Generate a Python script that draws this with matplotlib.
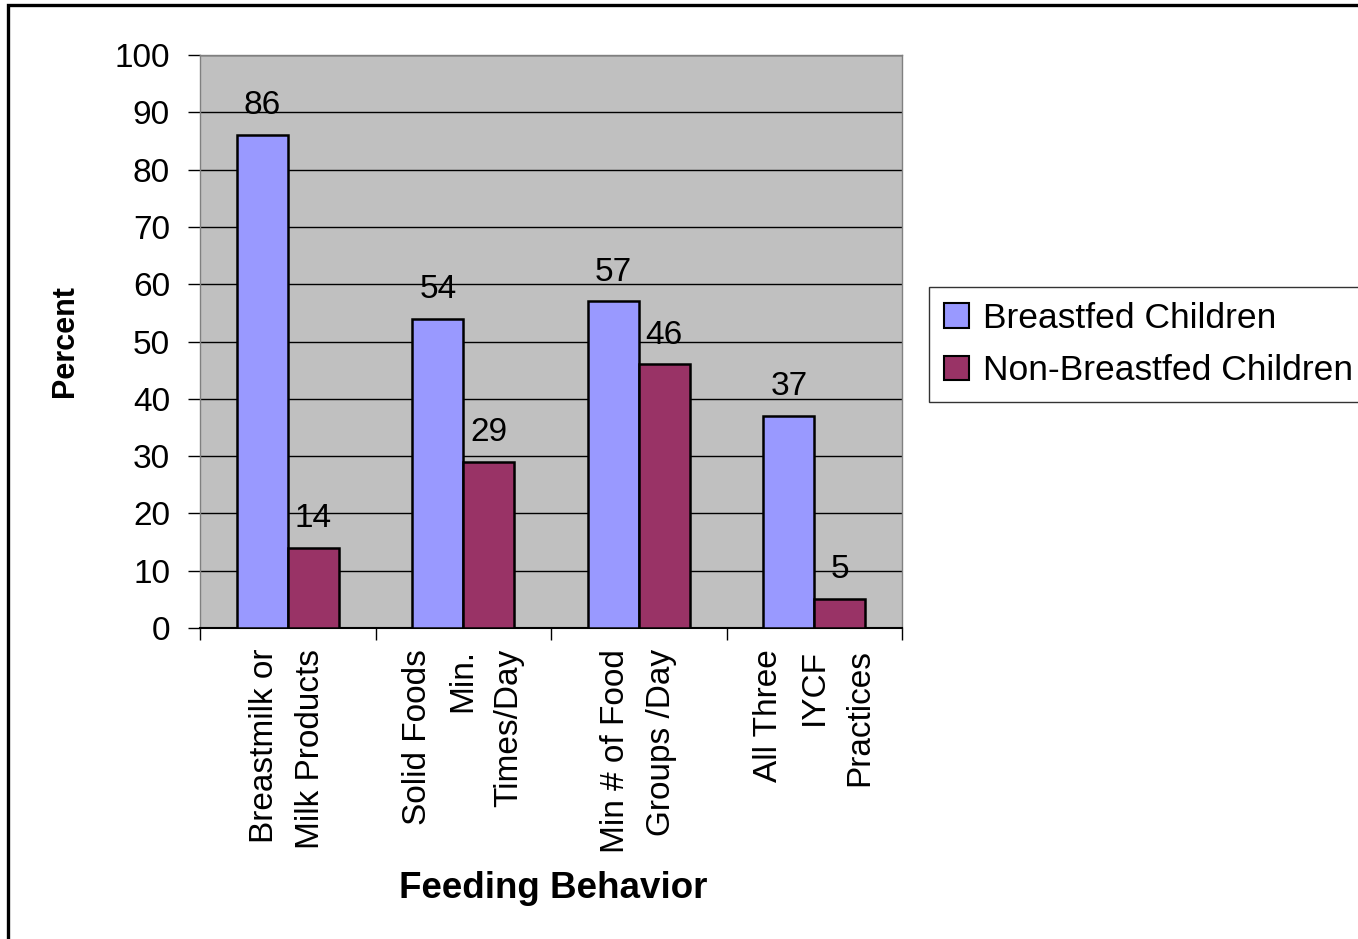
import matplotlib
matplotlib.use("Agg")
import matplotlib.pyplot as plt
import numpy as np
from matplotlib.patches import Rectangle

categories = ["Breastmilk or\nMilk Products", "Solid Foods\nMin.\nTimes/Day",
              "Min # of Food\nGroups /Day", "All Three\nIYCF\nPractices"]
breastfed = [86, 54, 57, 37]
non_breastfed = [14, 29, 46, 5]
series_names = ["Breastfed Children", "Non-Breastfed Children"]
y_ticks = list(range(0, 101, 10))

plt.rcParams['font.family'] = ['Liberation Sans', 'DejaVu Sans']

W, H = 1358, 939
FS = 24
fig = plt.figure(figsize=(W/100, H/100), dpi=100)
fig.patch.set_facecolor('white')

# outer chart border (left and top visible)
fig.add_artist(Rectangle((8/W, -0.1), 1.2, (H-5)/H + 0.1, transform=fig.transFigure,
                         fill=False, edgecolor='black', linewidth=2.4, zorder=10))

ax = fig.add_axes([200/W, 1-628/H, 702/W, 573/H])
ax.set_facecolor('#C0C0C0')

x = np.arange(len(categories))
w = 0.29
b1 = ax.bar(x - w/2, breastfed, w, color='#9999FF', edgecolor='black', linewidth=1.8,
            label=series_names[0], zorder=3)
b2 = ax.bar(x + w/2, non_breastfed, w, color='#993366', edgecolor='black', linewidth=1.8,
            label=series_names[1], zorder=3)
ax.bar_label(b1, padding=10, fontsize=FS)
ax.bar_label(b2, padding=10, fontsize=FS)

ax.set_xlim(-0.5, len(categories) - 0.5)
ax.set_ylim(0, 100)
ax.set_yticks(y_ticks)
ax.tick_params(axis='y', labelsize=FS, length=8.6, width=1, pad=13, direction='out')
ax.yaxis.grid(True, color='black', linewidth=1, zorder=1)
ax.set_axisbelow(True)

ax.set_xticks(x)
ax.set_xticklabels(categories, rotation=90, fontsize=FS, linespacing=1.62,
                   multialignment='right')
ax.tick_params(axis='x', which='major', length=0, pad=15)
ax.set_xticks(np.arange(-0.5, len(categories), 1), minor=True)
ax.tick_params(axis='x', which='minor', length=8.6, width=1, direction='out')

for s in ['top', 'right', 'left']:
    ax.spines[s].set_color('#808080')
    ax.spines[s].set_linewidth(1)
ax.spines['bottom'].set_color('black')
ax.spines['bottom'].set_linewidth(1.5)

fig.text(65/W, 1-341/H, "Percent", rotation=90, fontsize=22, fontweight='bold',
         ha='center', va='center')
fig.text(553/W, 1-888/H, "Feeding Behavior", fontsize=26.5, fontweight='bold',
         ha='center', va='center')

leg = fig.legend(handles=[b1, b2], labels=series_names, loc='upper left',
                 bbox_to_anchor=(929/W, 1-287/H), frameon=True, fancybox=False,
                 fontsize=25.5, handlelength=0.7, handleheight=0.67, handletextpad=0.4,
                 borderpad=0.42, labelspacing=0.55, borderaxespad=0, edgecolor='black')
leg.get_frame().set_linewidth(1)
for p in leg.get_patches():
    p.set_linewidth(1.5)

fig.savefig("out.png", dpi=100)
